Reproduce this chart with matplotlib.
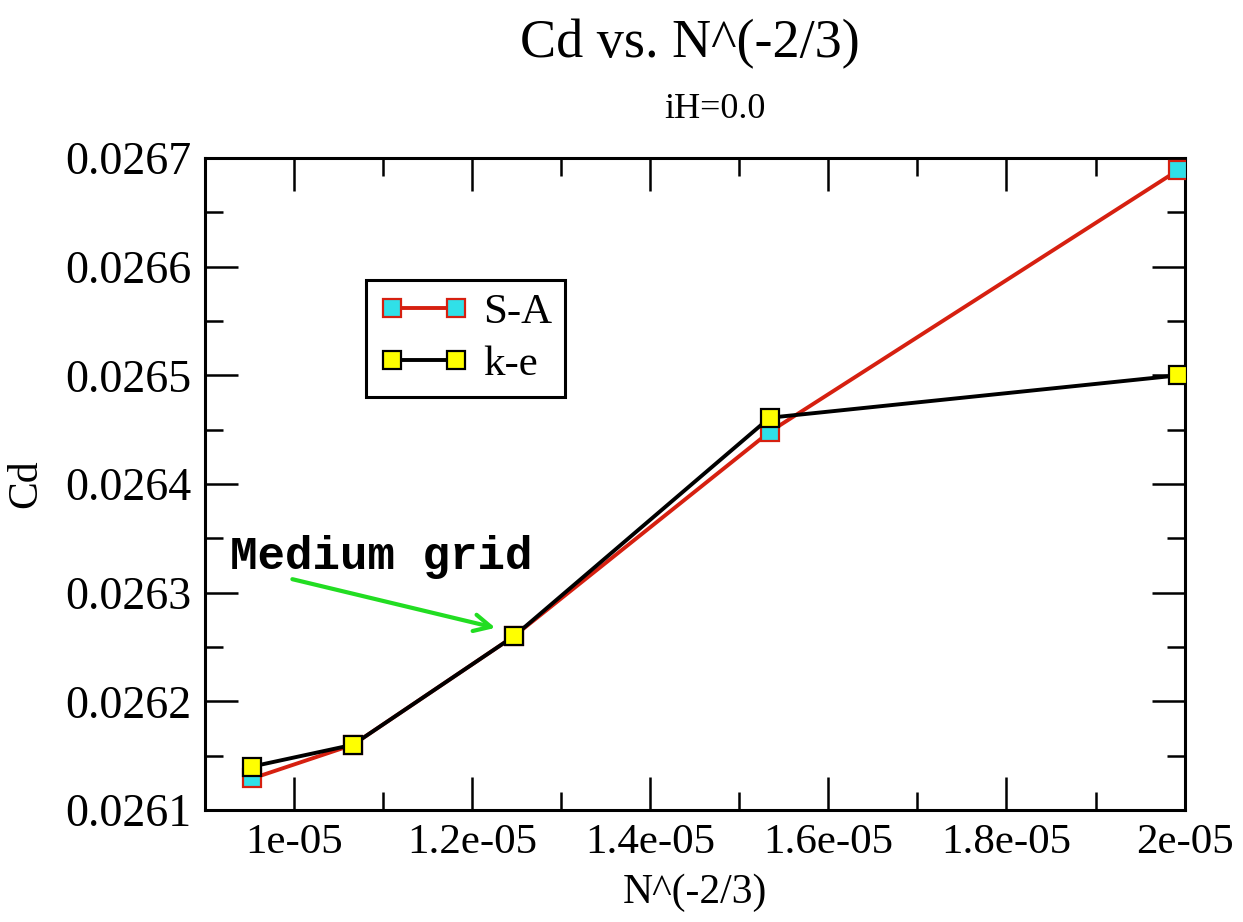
import matplotlib.pyplot as plt

# values
x_vals = [9.53e-06, 1.066e-05, 1.247e-05, 1.534e-05, 1.993e-05]
cd_sa = [0.026129, 0.026160, 0.026260, 0.026448, 0.026689]
cd_ke = [0.026140, 0.026160, 0.026260, 0.026461, 0.026500]
xticks = [1e-05, 1.2e-05, 1.4e-05, 1.6e-05, 1.8e-05, 2e-05]
xtick_labels = ['1e-05', '1.2e-05', '1.4e-05', '1.6e-05', '1.8e-05', '2e-05']
yticks = [0.0261, 0.0262, 0.0263, 0.0264, 0.0265, 0.0266, 0.0267]
ytick_labels = ['0.0261', '0.0262', '0.0263', '0.0264', '0.0265', '0.0266', '0.0267']

plt.rcParams['font.family'] = ['Liberation Serif', 'DejaVu Serif']

fig = plt.figure(figsize=(12.43, 9.22), dpi=100)
ax = fig.add_axes([0.165, 0.1215, 0.788, 0.7071])

ax.plot(x_vals, cd_sa, '-s', color='#d62010', lw=2.8, ms=12.5,
        mfc='#30e0e8', mec='#d62010', mew=1.6, label='S-A', zorder=3)
ax.plot(x_vals, cd_ke, '-s', color='black', lw=2.8, ms=12.5,
        mfc='#ffff00', mec='black', mew=1.6, label='k-e', zorder=4)

ax.set_xlim(9e-06, 2e-05)
ax.set_ylim(0.0261, 0.0267)
ax.set_xticks(xticks)
ax.set_xticklabels(xtick_labels)
ax.set_yticks(yticks)
ax.set_yticklabels(ytick_labels)
ax.set_xticks([1.1e-05, 1.3e-05, 1.5e-05, 1.7e-05, 1.9e-05], minor=True)
ax.set_yticks([0.02615, 0.02625, 0.02635, 0.02645, 0.02655, 0.02665], minor=True)

ax.tick_params(which='both', direction='in', top=True, right=True, width=1.8)
ax.tick_params(axis='y', labelsize=33)
ax.tick_params(axis='x', labelsize=31)
ax.tick_params(which='major', length=24, pad=10)
ax.tick_params(which='minor', length=13)
for s in ax.spines.values():
    s.set_linewidth(2.2)

ax.set_xlabel('N^(-2/3)', fontsize=30, labelpad=8)
ax.set_ylabel('Cd', fontsize=30, labelpad=14)

leg = ax.legend(loc='upper left', bbox_to_anchor=(0.164, 0.813), borderaxespad=0,
                fontsize=31, numpoints=2, handlelength=2.1, fancybox=False,
                framealpha=1, borderpad=0.3, labelspacing=0.3, handletextpad=0.33)
leg.get_frame().set_edgecolor('black')
leg.get_frame().set_linewidth(2.2)

ax.text(9.28e-06, 0.026333, 'Medium grid', fontsize=33, fontweight='bold',
        family='Liberation Mono', va='center', ha='left')
ax.annotate('', xy=(1.229e-05, 0.026267), xytext=(9.95e-06, 0.026313),
            arrowprops=dict(arrowstyle='->', color='#22dd22', lw=3,
                            mutation_scale=30))

fig.text(0.555, 0.952, 'Cd vs. N^(-2/3)', fontsize=39, ha='center', va='center')
fig.text(0.575, 0.881, 'iH=0.0', fontsize=26, ha='center', va='center')

fig.savefig('out.png', dpi=100)
